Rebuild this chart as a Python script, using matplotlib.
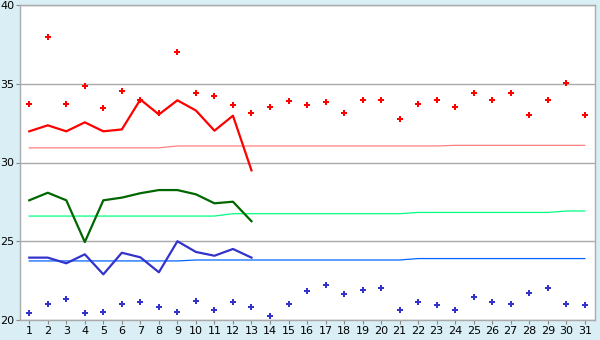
import numpy as np
import matplotlib
matplotlib.use("Agg")
import matplotlib.pyplot as plt

days = list(range(1, 32))

# верхние точки (красные)
red_points = [33.7, 38.0, 33.7, 34.84, 33.44, 34.52, 34.0, 33.12, 37.0, 34.39,
              34.2, 33.63, 33.12, 33.5, 33.88, 33.63, 33.82, 33.12, 34.0, 34.0,
              32.74, 33.7, 34.0, 33.5, 34.39, 34.0, 34.39, 33.0, 34.0, 35.03, 33.0]
red_line = [31.98, 32.36, 31.98, 32.55, 31.98, 32.1, 34.0, 33.05, 33.95, 33.3,
            32.02, 32.97, 29.5]
red_ref = [30.93] * 8 + [31.05] * 15 + [31.09] * 8

green_line = [27.6, 28.08, 27.6, 24.95, 27.6, 27.77, 28.05, 28.25, 28.25, 27.98,
              27.41, 27.51, 26.27]
green_ref = [26.6] * 11 + [26.75] * 10 + [26.83] * 8 + [26.92] * 2

blue_line = [23.96, 23.96, 23.6, 24.17, 22.9, 24.27, 23.98, 23.03, 25.0, 24.32,
             24.08, 24.51, 23.96]
blue_ref = [23.75] * 9 + [23.81] * 12 + [23.9] * 10

# нижние точки (синие)
blue_points = [20.42, 21.0, 21.33, 20.42, 20.49, 21.0, 21.12, 20.81, 20.49, 21.19,
               20.62, 21.12, 20.81, 20.23, 21.0, 21.82, 22.2, 21.63, 21.88, 22.01,
               20.62, 21.12, 20.93, 20.62, 21.44, 21.12, 21.0, 21.7, 22.01, 21.0, 20.93]

bg = '#D9EFF5'
fig = plt.figure(figsize=(6, 3.4), dpi=100, facecolor=bg)
ax = fig.add_axes([20 / 600, 20 / 340, 575 / 600, 315 / 340])
ax.set_facecolor('white')

n = len(red_line)
ax.plot(days, red_ref, color='#FF8080', lw=0.9)
ax.plot(days, green_ref, color='#00FF80', lw=0.9)
ax.plot(days, blue_ref, color='#0066FF', lw=0.9)
ax.plot(days[:n], red_line, color='#FF0000', lw=1.6)
ax.plot(days[:n], green_line, color='#006600', lw=1.6)
ax.plot(days[:n], blue_line, color='#3333CC', lw=1.6)
ax.plot(days, red_points, 'P', color='#FF0000', ms=5, mew=0)
ax.plot(days, blue_points, 'P', color='#3333CC', ms=5, mew=0)

ax.set_xlim(0.5, 31.55)
ax.set_ylim(20, 40)
ax.set_xticks(days)
ax.set_yticks([20, 25, 30, 35, 40])
ax.grid(axis='y', color='#AAAAAA', lw=1)
ax.set_axisbelow(True)
for s in ax.spines.values():
    s.set_color('#AAAAAA')
    s.set_linewidth(1)
ax.tick_params(colors='#888888', labelcolor='black', labelsize=8, length=3, pad=1)

fig.savefig('out.png', dpi=100, facecolor=bg)
